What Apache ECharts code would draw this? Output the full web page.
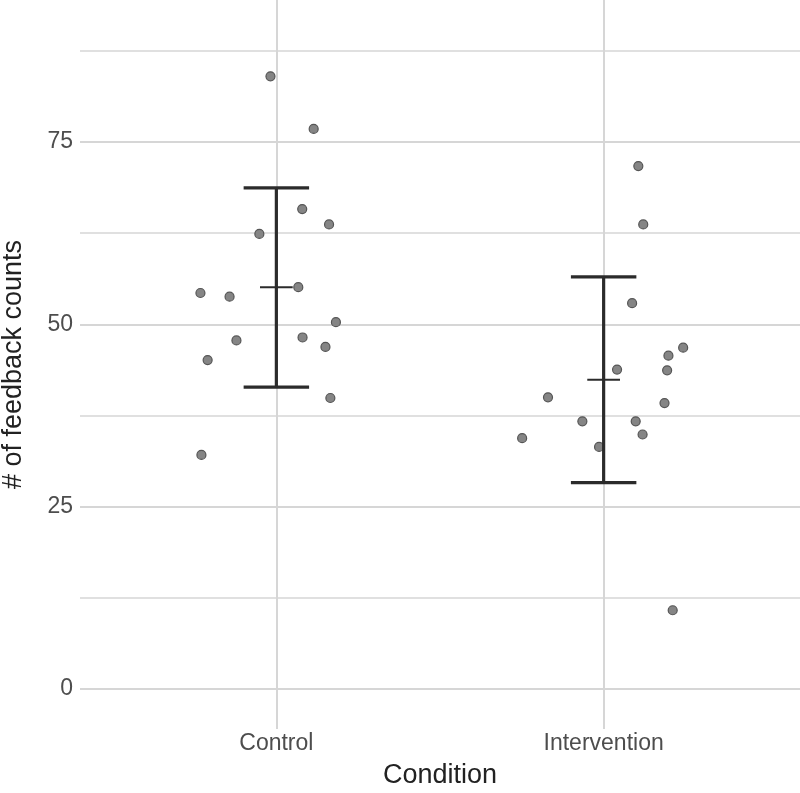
<!DOCTYPE html>
<html>
<head>
<meta charset="utf-8">
<script src="https://cdn.jsdelivr.net/npm/echarts@6/dist/echarts.min.js"></script>
<style>
html,body{margin:0;padding:0;background:#fff;}
#chart{width:800px;height:793px;}
</style>
</head>
<body>
<div id="chart"></div>
<script>
// ---- data ----
const categories = ['Control', 'Intervention'];
const controlX = [0.982, 1.114, 1.079, 1.161, 0.948, 0.768, 0.857, 1.067, 1.182, 0.878, 1.080, 1.150, 0.790, 1.165, 0.771];
const controlY = [84.0, 76.8, 65.8, 63.7, 62.4, 54.3, 53.8, 55.1, 50.3, 47.8, 48.2, 46.9, 45.1, 39.9, 32.1];
const interventionX = [2.106, 2.121, 2.087, 2.243, 2.198, 2.194, 2.041, 1.830, 2.186, 1.935, 2.098, 2.119, 1.751, 1.986, 2.211];
const interventionY = [71.7, 63.7, 52.9, 46.8, 45.7, 43.7, 43.8, 40.0, 39.2, 36.7, 36.7, 34.9, 34.4, 33.2, 10.8];
const means = [55.1, 42.4];
const lowers = [41.4, 28.3];
const uppers = [68.7, 56.5];
const yTickLabels = [0, 25, 50, 75];
const yMinorGrid = [12.5, 37.5, 62.5, 87.5];
const xTickValues = [1, 2];

const FONT = "'Liberation Sans', Arial, sans-serif";
const GRID_COLOR = '#d6d6d6';

const points = [];
controlX.forEach((x, i) => points.push([x, controlY[i]]));
interventionX.forEach((x, i) => points.push([x, interventionY[i]]));

const errData = categories.map((c, i) => [i + 1, means[i], lowers[i], uppers[i]]);

const chart = echarts.init(document.getElementById('chart'), null, {renderer: 'canvas'});
chart.setOption({
  animation: false,
  backgroundColor: '#ffffff',
  grid: {left: 80, right: 0, top: 0, bottom: 64, containLabel: false, outerBoundsMode: 'none'},
  xAxis: {
    type: 'value', min: 0.4, max: 2.6,
    axisLine: {show: false},
    axisTick: {show: false, customValues: xTickValues},
    axisLabel: {
      customValues: xTickValues,
      formatter: v => categories[Math.round(v) - 1],
      color: '#4d4d4d', fontSize: 23, fontFamily: FONT, margin: 3
    },
    splitLine: {show: true, lineStyle: {color: GRID_COLOR, width: 2}},
    name: 'Condition', nameLocation: 'middle', nameGap: 33,
    nameTextStyle: {color: '#222', fontSize: 27, fontFamily: FONT}
  },
  yAxis: [{
    type: 'value', min: -5.48, max: 94.47,
    axisLine: {show: false},
    axisTick: {show: false, customValues: yTickLabels},
    axisLabel: {
      customValues: yTickLabels,
      color: '#4d4d4d', fontSize: 23, fontFamily: FONT, margin: 7
    },
    splitLine: {show: true, lineStyle: {color: GRID_COLOR, width: 2}},
    name: '# of feedback counts', nameLocation: 'middle', nameGap: 53,
    nameRotate: 90,
    nameTextStyle: {color: '#222', fontSize: 27, fontFamily: FONT}
  }, {
    type: 'value', min: -5.48, max: 94.47, position: 'left',
    axisLine: {show: false},
    axisTick: {show: false, customValues: yMinorGrid},
    axisLabel: {show: false},
    splitLine: {show: true, lineStyle: {color: GRID_COLOR, width: 1.5}}
  }],
  series: [{
    type: 'scatter',
    data: points,
    symbolSize: 9,
    itemStyle: {color: '#858585', borderColor: '#555555', borderWidth: 1.2, opacity: 1},
    z: 2
  }, {
    type: 'custom',
    data: errData,
    z: 3,
    renderItem: function (params, api) {
      const x = api.value(0), m = api.value(1), lo = api.value(2), hi = api.value(3);
      const top = api.coord([x, hi]);
      const bot = api.coord([x, lo]);
      const capL = api.coord([x - 0.1, hi]);
      const capR = api.coord([x + 0.1, hi]);
      const capL2 = api.coord([x - 0.1, lo]);
      const capR2 = api.coord([x + 0.1, lo]);
      const mL = api.coord([x - 0.05, m]);
      const mR = api.coord([x + 0.05, m]);
      const st = {stroke: '#2b2b2b', lineWidth: 3.2, lineCap: 'butt'};
      return {
        type: 'group',
        children: [
          {type: 'line', shape: {x1: top[0], y1: top[1], x2: bot[0], y2: bot[1]}, style: st},
          {type: 'line', shape: {x1: capL[0], y1: capL[1], x2: capR[0], y2: capR[1]}, style: st},
          {type: 'line', shape: {x1: capL2[0], y1: capL2[1], x2: capR2[0], y2: capR2[1]}, style: st},
          {type: 'line', shape: {x1: mL[0], y1: mL[1], x2: mR[0], y2: mR[1]}, style: {stroke: '#2b2b2b', lineWidth: 2}}
        ]
      };
    }
  }]
});
</script>
</body>
</html>
